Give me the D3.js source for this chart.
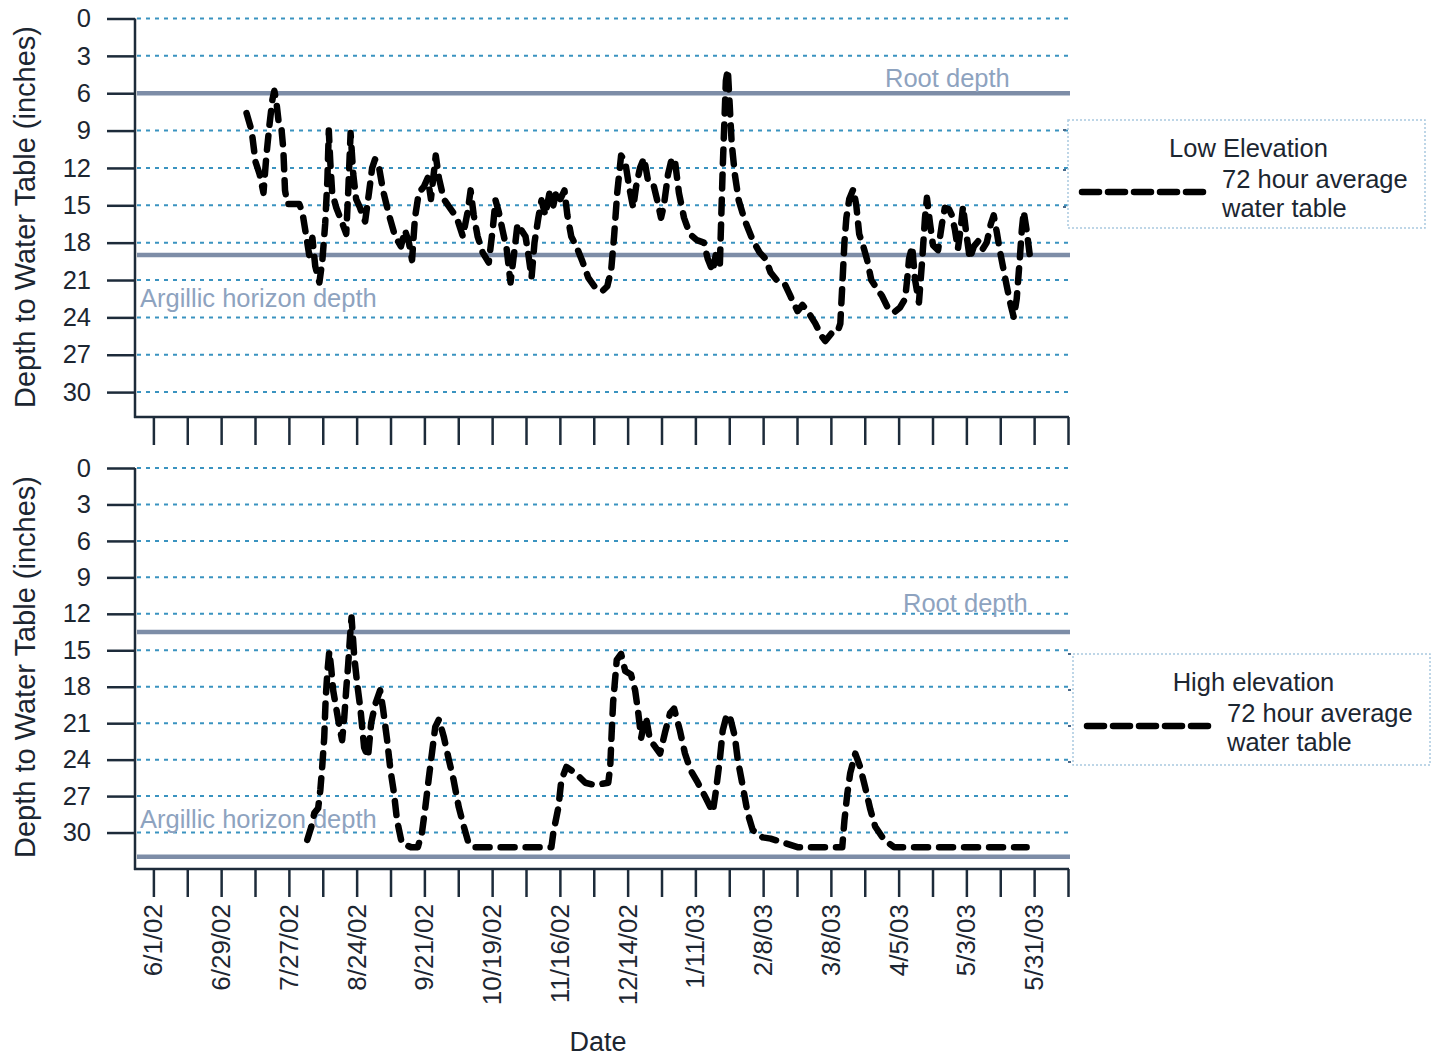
<!DOCTYPE html>
<html>
<head>
<meta charset="utf-8">
<script src="https://cdn.jsdelivr.net/npm/d3@7"></script>
<style>
  html, body { margin: 0; padding: 0; background: #ffffff; }
  svg { display: block; font-family: "Liberation Sans", Arial, Helvetica, sans-serif; }
</style>
</head>
<body>
<svg id="chart" width="1439" height="1057"></svg>
<script>
// Depth axis ticks (inches below surface)
const depthTicks = [0, 3, 6, 9, 12, 15, 18, 21, 24, 27, 30];

// Date axis: days since 6/1/02, a tick every 14 days, a label every 28 days
const dateTickDays = d3.range(0, 379, 14);
const dateLabelDays = d3.range(0, 365, 28);
const dateLabels = ["6/1/02", "6/29/02", "7/27/02", "8/24/02", "9/21/02", "10/19/02",
  "11/16/02", "12/14/02", "1/11/03", "2/8/03", "3/8/03", "4/5/03", "5/3/03", "5/31/03"];

// Low elevation well: 72 hour average depth to water table
const lowDay = [38.5,40.6,42.2,43.9,45.5,46.7,48.0,49.2,50.0,50.9,
  51.7,52.9,53.7,54.4,55.4,60.3,61.6,63.2,64.4,65.7,
  66.9,68.6,69.8,71.0,71.9,72.5,73.1,73.9,75.6,77.6,
  79.7,80.5,81.5,82.6,83.8,85.4,87.5,89.1,90.4,91.6,
  93.3,94.9,97.4,99.9,102.3,104.0,105.6,106.9,108.1,109.7,
  111.8,113.4,114.7,116.7,118.0,120.0,122.9,125.4,127.9,129.9,
  131.1,132.4,134.0,136.1,138.6,140.2,141.4,142.7,144.3,146.0,
  147.6,149.3,150.5,152.1,153.8,155.0,156.3,157.5,159.1,160.4,
  162.0,163.7,165.3,166.6,168.2,169.9,171.1,172.7,174.8,177.3,
  179.7,182.6,185.5,187.6,189.2,190.4,191.7,193.3,195.0,196.6,
  198.3,199.5,201.1,202.8,204.4,206.5,208.1,209.8,211.0,212.7,
  214.3,215.6,217.2,219.3,221.7,224.6,227.5,229.1,231.2,232.4,
  234.1,235.3,236.6,237.4,238.2,239.0,240.3,241.9,244.4,247.7,
  250.6,253.0,255.1,257.6,260.9,263.3,266.2,268.3,270.7,273.6,
  276.1,277.7,280.2,282.7,283.9,284.7,285.6,286.4,287.6,289.3,
  290.5,291.7,293.4,295.0,296.7,298.7,301.2,303.7,306.1,308.6,
  310.7,311.5,312.3,313.6,314.8,316.4,317.7,318.9,319.7,321.0,
  322.2,324.3,325.9,327.1,328.8,330.0,331.3,332.5,333.7,334.6,
  335.8,337.4,339.1,341.2,342.8,344.4,346.1,347.3,348.6,349.8,
  351.0,352.7,354.3,355.6,356.8,358.0,358.9,359.7,360.9,362.2];
const lowDepth = [7.6,9.0,11.5,12.5,14.0,11.0,8.5,6.5,5.8,6.8,
  8.2,8.8,10.5,13.8,14.9,14.9,15.6,17.5,19.0,17.6,
  19.9,21.2,19.5,16.5,13.0,9.0,11.5,14.0,15.2,16.2,
  17.3,14.0,9.2,12.5,14.5,15.2,16.3,14.0,12.0,11.3,
  12.0,13.8,15.8,17.5,18.3,17.0,18.0,19.4,16.0,14.0,
  13.5,12.8,14.5,11.0,12.8,14.5,15.3,16.0,17.5,15.5,
  13.8,15.8,17.5,18.8,19.6,17.0,14.6,15.5,17.0,18.5,
  21.2,18.5,16.5,17.0,17.5,19.0,20.8,18.0,16.0,14.6,
  15.8,14.0,15.0,13.8,14.5,13.8,15.8,17.5,18.3,19.5,
  20.8,21.6,21.9,21.5,20.2,17.5,14.0,11.0,11.5,13.5,
  15.2,13.5,12.0,11.2,13.0,13.2,14.5,16.0,15.0,12.5,
  11.2,11.5,14.0,16.0,17.3,17.8,18.0,19.3,20.3,19.0,
  19.9,12.0,5.0,4.1,7.0,10.0,12.5,14.6,16.2,17.8,
  18.8,19.3,20.4,21.0,21.3,22.3,23.5,23.0,23.6,24.5,
  25.5,25.9,25.3,25.2,24.5,21.5,18.0,16.0,14.5,13.7,
  15.0,17.3,18.3,19.4,21.0,21.6,22.3,23.3,23.6,23.2,
  22.5,21.0,19.3,18.3,21.0,22.8,19.5,16.0,14.4,16.5,
  18.2,18.6,16.5,15.2,15.3,15.8,17.0,18.5,16.8,15.1,
  17.0,19.3,18.3,17.8,18.5,18.0,16.5,15.8,17.2,18.6,
  19.8,21.5,23.0,24.0,22.5,19.5,17.0,15.5,17.0,19.0];

// High elevation well: 72 hour average depth to water table
const highDay = [63.6,65.3,66.5,68.1,69.0,69.8,70.6,71.2,71.9,72.7,
  73.5,74.3,75.6,76.8,78.0,78.9,79.7,80.5,81.3,81.9,
  83.0,84.2,85.6,87.1,88.7,90.0,91.6,93.7,94.9,96.6,
  98.0,99.4,100.7,102.7,106.4,109.3,111.0,112.4,113.9,115.1,
  116.5,118.0,120.0,122.1,124.1,126.2,128.3,130.3,132.8,164.5,
  165.3,167.4,168.6,170.7,174.4,178.5,182.6,188.0,188.8,189.4,
  190.0,190.9,191.5,193.3,195.0,197.4,199.1,200.3,201.6,202.8,
  203.6,204.9,206.5,209.4,211.4,213.5,215.2,217.6,219.7,222.1,
  225.0,227.9,231.2,232.4,234.1,235.3,237.0,238.2,240.3,241.5,
  243.6,245.6,247.7,251.8,255.1,260.0,266.2,284.7,285.6,286.8,
  288.0,290.1,292.1,294.2,296.3,298.3,302.0,306.1,360.9];
const highDepth = [30.6,29.5,28.4,28.0,26.5,24.5,22.2,19.0,16.8,15.1,
  16.5,18.3,19.8,21.2,22.4,20.5,18.2,16.2,13.8,12.3,
  15.5,17.7,19.9,23.0,23.8,21.0,19.5,18.3,19.8,22.4,
  24.9,26.7,29.0,30.9,31.2,31.2,30.0,27.9,25.4,23.5,
  21.3,20.7,22.1,24.0,25.7,27.9,29.5,30.9,31.2,31.2,
  30.0,27.9,25.7,24.6,25.1,25.9,26.1,25.9,24.6,21.8,
  19.3,17.2,15.8,15.3,16.7,17.0,18.3,20.0,22.2,21.0,
  20.5,22.0,22.7,23.5,21.8,20.2,19.8,21.6,23.5,24.9,
  25.9,27.0,28.3,26.7,24.0,21.6,20.3,20.4,22.1,24.0,
  26.2,28.4,29.8,30.4,30.5,30.8,31.2,31.2,29.0,26.8,
  25.1,23.5,24.6,26.3,28.1,29.5,30.6,31.2,31.2];

// Reference depths: root zone and top of the argillic horizon
const lowRefDepths = [6, 19];
const highRefDepths = [13.5, 32];
const refNames = ["Root depth", "Argillic horizon depth"];

const legendTitles = ["Low Elevation", "High elevation"];
const legendLines = ["72 hour average", "water table"];

const C = {
  ink: "#1c2631",
  axis: "#1d2b3a",
  grid: "#3a93c0",
  ref: "#7d8da7",
  refText: "#8ea3bf",
  box: "#a9c9df"
};

const svg = d3.select("#chart");

const x = d3.scaleLinear().domain([-7.6, 378]).range([135, 1068]);

function drawPanel(p) {
  const y = d3.scaleLinear().domain([0, p.maxDepth]).range([p.top, p.bottom]);
  const g = svg.append("g");

  // dotted horizontal grid
  g.append("g").selectAll("line").data(depthTicks).join("line")
    .attr("x1", 137).attr("x2", 1068)
    .attr("y1", d => y(d)).attr("y2", d => y(d))
    .attr("stroke", C.grid).attr("stroke-width", 2)
    .attr("stroke-dasharray", "4 5");

  // reference depth lines
  g.append("g").selectAll("line").data(p.refs).join("line")
    .attr("x1", 137).attr("x2", 1070)
    .attr("y1", d => y(d)).attr("y2", d => y(d))
    .attr("stroke", C.ref).attr("stroke-width", 4.5);

  // reference labels
  g.append("text").attr("x", p.rootLabelX).attr("y", y(p.refs[0]) - p.rootLabelGap)
    .attr("fill", C.refText).attr("font-size", 25.5).text(refNames[0]);
  g.append("text").attr("x", 140).attr("y", p.argLabelY)
    .attr("fill", C.refText).attr("font-size", 25.5).text(refNames[1]);

  // depth axis
  const yAxis = g.append("g").attr("transform", "translate(135,0)")
    .call(d3.axisLeft(y).tickValues(depthTicks).tickSize(28).tickPadding(16).tickSizeOuter(0));
  yAxis.select(".domain").remove();
  yAxis.selectAll(".tick line").attr("stroke", C.axis).attr("stroke-width", 2.5);
  yAxis.selectAll(".tick text").attr("fill", C.ink).attr("font-size", 25.5)
    .attr("font-family", "Liberation Sans, Arial, sans-serif");
  g.append("line").attr("x1", 135).attr("x2", 135).attr("y1", p.top).attr("y2", p.bottom + 1)
    .attr("stroke", C.axis).attr("stroke-width", 2.5);

  // date axis (ticks only)
  const xAxis = g.append("g").attr("transform", `translate(0,${p.bottom})`)
    .call(d3.axisBottom(x).tickValues(dateTickDays).tickSize(28).tickFormat(() => "").tickSizeOuter(0));
  xAxis.select(".domain").remove();
  xAxis.selectAll(".tick line").attr("stroke", C.axis).attr("stroke-width", 2.5);
  g.append("line").attr("x1", 134).attr("x2", 1069).attr("y1", p.bottom).attr("y2", p.bottom)
    .attr("stroke", C.axis).attr("stroke-width", 2.5);

  // axis title
  g.append("text")
    .attr("transform", `translate(35,${p.titleY}) rotate(-90)`)
    .attr("text-anchor", "middle").attr("fill", C.ink).attr("font-size", 29)
    .text("Depth to Water Table (inches)");

  // water table series
  const line = d3.line().x(d => x(d[0])).y(d => y(d[1]));
  g.append("path").datum(d3.zip(p.days, p.depths))
    .attr("d", line).attr("fill", "none")
    .attr("stroke", "#000").attr("stroke-width", 6.5)
    .attr("stroke-linecap", "round").attr("stroke-linejoin", "round")
    .attr("stroke-dasharray", "14 11");

  // legend
  const L = p.legend;
  const lg = g.append("g");
  lg.append("rect").attr("x", L.x).attr("y", L.y).attr("width", L.w).attr("height", L.h)
    .attr("fill", "#fff").attr("stroke", C.box).attr("stroke-width", 1.5)
    .attr("stroke-dasharray", "2 2");
  lg.selectAll(".mk").data(L.marks).join("line").attr("class", "mk")
    .attr("x1", L.x - 5).attr("x2", L.x - 2).attr("y1", d => d).attr("y2", d => d)
    .attr("stroke", "#4a6a8a").attr("stroke-width", 2);
  lg.append("text").attr("x", L.x + L.w / 2 + 2).attr("y", L.y + 37)
    .attr("text-anchor", "middle").attr("fill", C.ink).attr("font-size", 25.5).text(L.title);
  lg.append("line").attr("x1", L.x + 14).attr("x2", L.x + 136)
    .attr("y1", L.y + 72).attr("y2", L.y + 72)
    .attr("stroke", "#000").attr("stroke-width", 6.5)
    .attr("stroke-linecap", "round").attr("stroke-dasharray", "17 9");
  lg.selectAll(".lt").data(legendLines).join("text").attr("class", "lt")
    .attr("x", L.x + 154).attr("y", (d, i) => L.y + 68 + i * 29)
    .attr("fill", C.ink).attr("font-size", 25.5).text(d => d);
}

drawPanel({
  top: 18.5, bottom: 417, maxDepth: 32,
  refs: lowRefDepths, rootLabelX: 885, rootLabelGap: 6, argLabelY: 307,
  titleY: 217, days: lowDay, depths: lowDepth,
  legend: { x: 1068, y: 120, w: 357, h: 108, title: legendTitles[0], marks: [130, 170, 207] }
});

drawPanel({
  top: 468, bottom: 869, maxDepth: 33,
  refs: highRefDepths, rootLabelX: 903, rootLabelGap: 20, argLabelY: 828,
  titleY: 667, days: highDay, depths: highDepth,
  legend: { x: 1073, y: 654, w: 357, h: 111, title: legendTitles[1], marks: [654, 690, 726, 762] }
});

// date labels below the lower panel
svg.append("g").selectAll("text").data(dateLabelDays).join("text")
  .attr("transform", d => `translate(${x(d)},904) rotate(-90)`)
  .attr("text-anchor", "end").attr("dy", "0.35em")
  .attr("fill", C.ink).attr("font-size", 26)
  .text((d, i) => dateLabels[i]);

svg.append("text").attr("x", 598).attr("y", 1051).attr("text-anchor", "middle")
  .attr("fill", C.ink).attr("font-size", 27).text("Date");
</script>
</body>
</html>
